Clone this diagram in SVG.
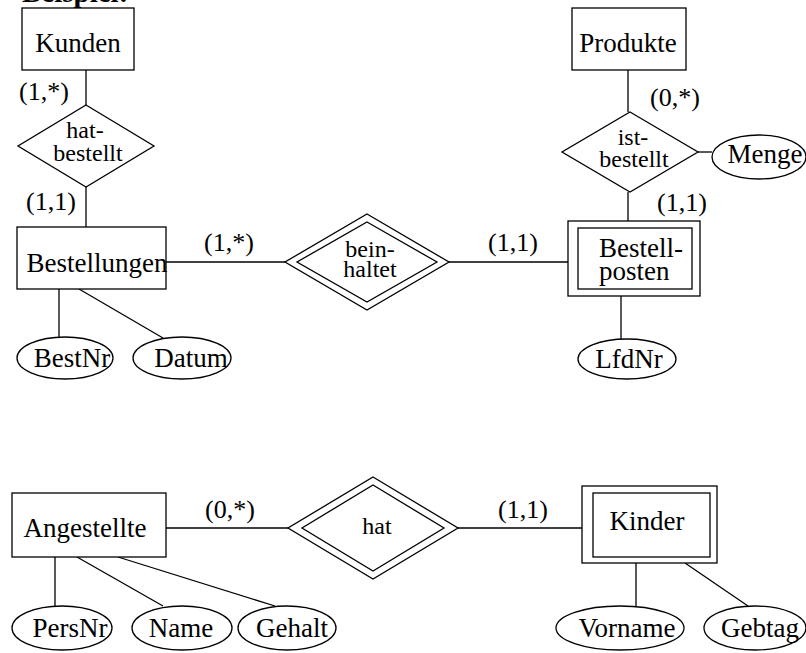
<svg xmlns="http://www.w3.org/2000/svg" width="806" height="653" viewBox="0 0 806 653">
  <style>
    .shape { fill: #fff; stroke: #000; stroke-width: 1.3; }
    .edge { stroke: #000; stroke-width: 1.3; fill: none; }
    text { font-family: "Liberation Serif", "Times New Roman", serif; fill: #000; }
    .lbl { font-size: 27px; text-anchor: middle; }
    .rel { font-size: 24px; text-anchor: middle; }
    .card { font-size: 26px; }
    .title { font-size: 29px; font-weight: bold; }
  </style>
  <rect width="806" height="653" fill="#fff"/>

  <text class="title" x="22" y="2">Beispiel:</text>

  <!-- connectors -->
  <g id="connectors">
    <line class="edge" x1="86" y1="70" x2="86" y2="105"/>
    <line class="edge" x1="86" y1="187" x2="86" y2="227"/>
    <line class="edge" x1="59" y1="289" x2="59" y2="337"/>
    <line class="edge" x1="79" y1="289" x2="163" y2="338"/>
    <line class="edge" x1="166" y1="262" x2="285" y2="262"/>
    <line class="edge" x1="449" y1="262" x2="568" y2="262"/>
    <line class="edge" x1="628" y1="70" x2="628" y2="112"/>
    <line class="edge" x1="628" y1="192" x2="628" y2="221"/>
    <line class="edge" x1="698" y1="152" x2="712" y2="152"/>
    <line class="edge" x1="621" y1="296" x2="621" y2="339"/>
    <line class="edge" x1="166" y1="528" x2="288" y2="528"/>
    <line class="edge" x1="458" y1="528" x2="582" y2="528"/>
    <line class="edge" x1="55" y1="557" x2="55" y2="606"/>
    <line class="edge" x1="77" y1="557" x2="163" y2="606"/>
    <line class="edge" x1="118" y1="557" x2="275" y2="606"/>
    <line class="edge" x1="636" y1="563" x2="636" y2="606"/>
    <line class="edge" x1="685" y1="563" x2="748" y2="606"/>
  </g>

  <!-- cardinalities -->
  <g id="cardinalities">
    <text class="card" x="19" y="100">(1,*)</text>
    <text class="card" x="26" y="210">(1,1)</text>
    <text class="card" x="204" y="251">(1,*)</text>
    <text class="card" x="488" y="251">(1,1)</text>
    <text class="card" x="650" y="106">(0,*)</text>
    <text class="card" x="657" y="211">(1,1)</text>
    <text class="card" x="205" y="518">(0,*)</text>
    <text class="card" x="498" y="518">(1,1)</text>
  </g>

  <!-- entities -->
  <g id="kunden">
    <rect class="shape" x="22" y="8" width="112" height="62"/>
    <text class="lbl" x="78" y="52">Kunden</text>
  </g>
  <g id="produkte">
    <rect class="shape" x="572" y="8" width="114" height="62"/>
    <text class="lbl" x="628" y="52">Produkte</text>
  </g>
  <g id="bestellungen">
    <rect class="shape" x="17" y="227" width="149" height="62"/>
    <text class="lbl" x="97" y="272">Bestellungen</text>
  </g>
  <g id="bestellposten">
    <rect class="shape" x="568" y="221" width="132" height="75"/>
    <rect class="shape" x="578" y="228" width="114" height="61"/>
    <text class="lbl" x="599" y="257" text-anchor="start" style="text-anchor:start">Bestell-</text>
    <text class="lbl" x="599" y="280" style="text-anchor:start">posten</text>
  </g>
  <g id="angestellte">
    <rect class="shape" x="12" y="493" width="154" height="64"/>
    <text class="lbl" x="85" y="537">Angestellte</text>
  </g>
  <g id="kinder">
    <rect class="shape" x="582" y="486" width="135" height="77"/>
    <rect class="shape" x="593" y="493" width="117" height="64"/>
    <text class="lbl" x="647" y="530">Kinder</text>
  </g>

  <!-- relationships -->
  <g id="hat-bestellt">
    <polygon class="shape" points="86,105 154,146 86,187 18,146"/>
    <text class="rel" x="85" y="138">hat-</text>
    <text class="rel" x="88" y="161">bestellt</text>
  </g>
  <g id="ist-bestellt">
    <polygon class="shape" points="630,112 698,152 630,192 562,152"/>
    <text class="rel" x="633" y="145">ist-</text>
    <text class="rel" x="634" y="167">bestellt</text>
  </g>
  <g id="beinhaltet">
    <polygon class="shape" points="367,214 449,262 367,310 285,262"/>
    <polygon class="shape" points="367,222 437,262 367,302 297,262"/>
    <text class="rel" x="370" y="257">bein-</text>
    <text class="rel" x="370" y="277">haltet</text>
  </g>
  <g id="hat">
    <polygon class="shape" points="373,477 458,528 373,579 288,528"/>
    <polygon class="shape" points="373,485 444,528 373,571 302,528"/>
    <text class="rel" x="377" y="534">hat</text>
  </g>

  <!-- attributes -->
  <g id="bestnr">
    <ellipse class="shape" cx="65" cy="358" rx="48" ry="21"/>
    <text class="lbl" x="72" y="367">BestNr</text>
  </g>
  <g id="datum">
    <ellipse class="shape" cx="182" cy="358" rx="49" ry="21"/>
    <text class="lbl" x="191" y="367">Datum</text>
  </g>
  <g id="lfdnr">
    <ellipse class="shape" cx="627" cy="359" rx="49" ry="20"/>
    <text class="lbl" x="629" y="368">LfdNr</text>
  </g>
  <g id="menge">
    <ellipse class="shape" cx="759" cy="157" rx="47" ry="22"/>
    <text class="lbl" x="765" y="163">Menge</text>
  </g>
  <g id="persnr">
    <ellipse class="shape" cx="62" cy="628" rx="50" ry="22"/>
    <text class="lbl" x="70" y="637">PersNr</text>
  </g>
  <g id="name">
    <ellipse class="shape" cx="182" cy="628" rx="50" ry="22"/>
    <text class="lbl" x="181" y="637">Name</text>
  </g>
  <g id="gehalt">
    <ellipse class="shape" cx="287" cy="628" rx="49" ry="22"/>
    <text class="lbl" x="292" y="637">Gehalt</text>
  </g>
  <g id="vorname">
    <ellipse class="shape" cx="620" cy="628" rx="64" ry="22"/>
    <text class="lbl" x="627" y="637">Vorname</text>
  </g>
  <g id="gebtag">
    <ellipse class="shape" cx="755" cy="628" rx="51" ry="22"/>
    <text class="lbl" x="760" y="637">Gebtag</text>
  </g>
</svg>
